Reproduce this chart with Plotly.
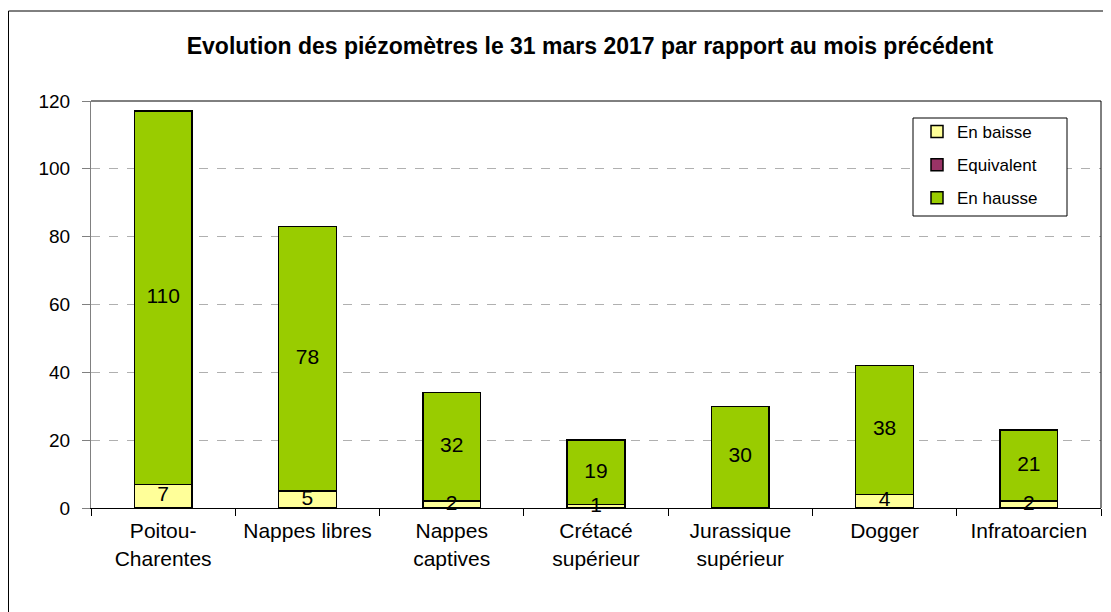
import plotly.graph_objects as go

categories = ["Poitou-<br>Charentes", "Nappes libres", "Nappes<br>captives", "Crétacé<br>supérieur",
              "Jurassique<br>supérieur", "Dogger", "Infratoarcien"]
en_baisse = [7, 5, 2, 1, 0, 4, 2]
equivalent = [0, 0, 0, 0, 0, 0, 0]
en_hausse = [110, 78, 32, 19, 30, 38, 21]
y_ticks = [0, 20, 40, 60, 80, 100, 120]

title_text = "Evolution des piézomètres le 31 mars 2017 par rapport au mois précédent"
FONT = "Liberation Sans, Arial, sans-serif"

OFF = 8  # page body margin
W, H = 1111 - OFF, 612 - OFF
L, R, T, B = 91 - OFF, 1101 - OFF, 101 - OFF, 508 - OFF

def px_x(p):
    return (p - OFF - L) / (R - L)

def px_y(p):
    return (B - (p - OFF)) / (B - T)

fig = go.Figure()
line = dict(color="black", width=1.5)
fig.add_trace(go.Bar(name="En baisse", x=categories, y=en_baisse, legendgroup="a",
                     marker=dict(color="#FFFF99", line=line), width=0.4))
fig.add_trace(go.Bar(name="Equivalent", x=categories, y=equivalent, legendgroup="b",
                     marker=dict(color="#993366", line=line), width=0.4))
fig.add_trace(go.Bar(name="En hausse", x=categories, y=en_hausse, legendgroup="c",
                     marker=dict(color="#99CC00", line=line), width=0.4))

# data labels
fig.add_trace(go.Scatter(x=categories, y=[v / 2 for v in en_baisse],
                         text=[str(v) if v > 0 else "" for v in en_baisse],
                         mode="text", textfont=dict(family=FONT, size=21, color="black"),
                         showlegend=False, hoverinfo="skip", cliponaxis=False))
fig.add_trace(go.Scatter(x=categories,
                         y=[b + e + h / 2 for b, e, h in zip(en_baisse, equivalent, en_hausse)],
                         text=[str(v) if v > 0 else "" for v in en_hausse],
                         mode="text", textfont=dict(family=FONT, size=21, color="black"),
                         showlegend=False, hoverinfo="skip", cliponaxis=False))

border = dict(color="black", width=1)
shapes = [
    # outer chart border: left and top edges (pixel offsets from the plot's left edge)
    dict(type="line", xref="paper", yref="paper", xsizemode="pixel", xanchor=0,
         x0=-(L - 0.5), x1=-(L - 0.5), y0=px_y(650), y1=px_y(11), line=border),
    dict(type="line", xref="paper", yref="paper", xsizemode="pixel", xanchor=0,
         x0=-(L - 0.5), x1=W, y0=px_y(11), y1=px_y(11), line=border),
    # plot area right border
    dict(type="line", xref="paper", yref="paper", x0=1, x1=1, y0=0, y1=1, line=border),
    # plot area top border
    dict(type="line", xref="paper", yref="paper", x0=0, x1=1, y0=1, y1=1, line=border),
    # legend box
    dict(type="rect", xref="paper", yref="paper", x0=px_x(913), x1=px_x(1067),
         y0=px_y(216), y1=px_y(118), line=border, fillcolor="white", layer="above"),
]

fig.update_layout(
    width=W, height=H,
    margin=dict(l=L, r=W - R, t=T, b=H - B, autoexpand=False),
    paper_bgcolor="white", plot_bgcolor="white",
    barmode="stack",
    font=dict(family=FONT, color="black"),
    title=dict(text="<b>" + title_text + "</b>", x=(590 - OFF) / W, xref="container", xanchor="center",
               y=1 - (46 - OFF) / H, yref="container", yanchor="middle",
               font=dict(family=FONT, size=23, color="black")),
    legend=dict(x=px_x(917), y=px_y(114), xanchor="left", yanchor="top",
                bgcolor="rgba(0,0,0,0)", borderwidth=0,
                traceorder="grouped", tracegroupgap=8,
                font=dict(family=FONT, size=17, color="black")),
    shapes=shapes,
    xaxis=dict(type="category", tickson="boundaries", ticks="outside", ticklen=7, tickcolor="black",
               showline=True, linecolor="black", linewidth=1, showgrid=False,
               ticklabelstandoff=4,
               tickfont=dict(family=FONT, size=21, color="black")),
    yaxis=dict(range=[0, 120], tickvals=y_ticks, ticks="outside", ticklen=8, tickcolor="#808080",
               showline=True, linecolor="#808080", linewidth=1,
               showgrid=True, gridcolor="#B0B0B0", griddash="dash", gridwidth=1,
               zeroline=False, ticklabelstandoff=8,
               tickfont=dict(family=FONT, size=19, color="black")),
)

fig.write_html("out.html")
